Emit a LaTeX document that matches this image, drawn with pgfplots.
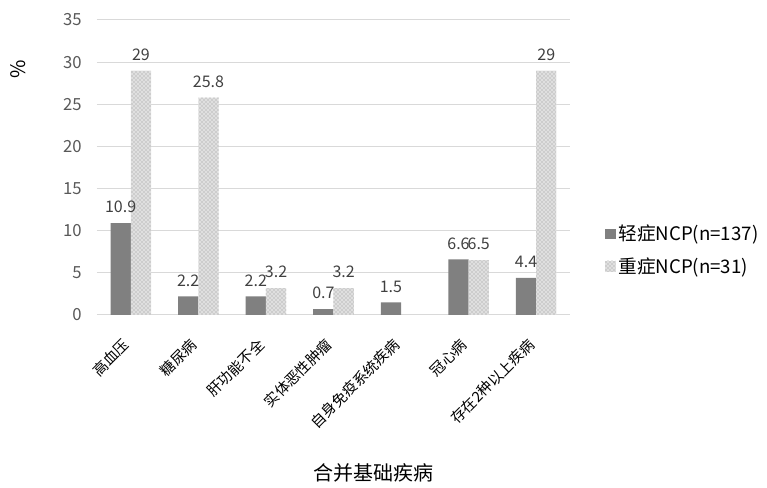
\documentclass[border=0pt]{standalone}
\usepackage{fontspec}
\setmainfont{Noto Sans CJK SC}
\usepackage{pgfplots}
\pgfplotsset{compat=1.18}
\usetikzlibrary{patterns}
\definecolor{darkbar}{RGB}{128,128,128}
\definecolor{gridc}{RGB}{217,217,217}
\definecolor{ticktxt}{RGB}{89,89,89}
\definecolor{lbl}{RGB}{64,64,64}
\begin{document}
\begin{tikzpicture}
\path[use as bounding box] (0,0) rectangle (575.25pt,366pt);
\begin{axis}[
    at={(72.75pt,129.75pt)}, anchor=south west,
    scale only axis, width=354.75pt, height=221.25pt,
    ybar=0pt, bar width=0.3,
    xmin=-0.5, xmax=6.5, ymin=0, ymax=35,
    ytick={0,5,...,35},
    xtick=data,
    xticklabels={高血压,糖尿病,肝功能不全,实体恶性肿瘤,自身免疫系统疾病,冠心病,存在2种以上疾病},
    x tick label style={xshift=-7pt, yshift=-15pt, rotate=45, anchor=north east, font=\fontsize{11}{13}\selectfont, inner sep=1pt},
    y tick label style={font=\fontsize{12.5}{14}\selectfont, text=ticktxt, xshift=-8pt},
    /pgf/number format/assume math mode=true,
    major tick length=0pt,
    axis line style={draw=none},
    ymajorgrids, grid style={gridc, line width=0.75pt},
    xlabel={合并基础疾病},
    xlabel style={at={(axis description cs:0.585,-0.535)}, anchor=center, font=\fontsize{15}{17}\selectfont},
    ylabel={\%},
    ylabel style={at={(axis description cs:-0.167,0.834)}, anchor=center, font=\fontsize{15}{17}\selectfont},
    nodes near coords,
    every node near coord/.append style={font=\fontsize{12}{14}\selectfont, text=lbl, yshift=4pt},
    legend style={at={(1.065,0.22)}, anchor=west, draw=none, fill=none,
        font=\fontsize{14}{16}\selectfont, row sep=7pt, legend cell align=left},
    legend image code/.code={\path[#1] (0pt,-4pt) rectangle (8pt,4pt);},
]
\addplot[fill=darkbar, draw=none] coordinates {(0,10.9) (1,2.2) (2,2.2) (3,0.7) (4,1.5) (5,6.6) (6,4.4)};
\addlegendentry{轻症NCP(n=137)}
\addplot[fill=gray!25, draw=none, postaction={pattern=crosshatch dots, pattern color=gray!85}] coordinates {(0,29) (1,25.8) (2,3.2) (3,3.2) (5,6.5) (6,29)};
\addlegendentry{重症NCP(n=31)}
\end{axis}
\end{tikzpicture}
\end{document}
